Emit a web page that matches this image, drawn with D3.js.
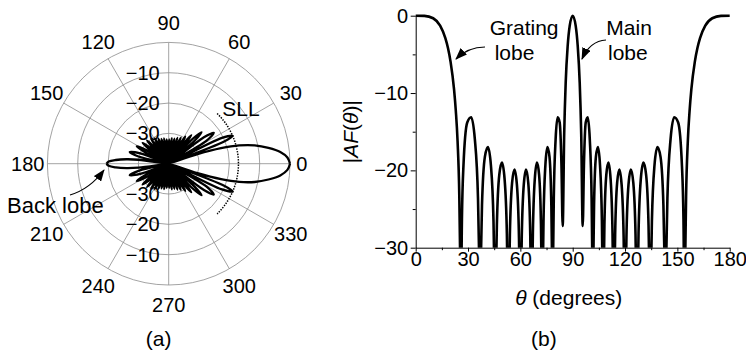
<!DOCTYPE html>
<html>
<head>
<meta charset="utf-8">
<script src="https://cdn.jsdelivr.net/npm/d3@7"></script>
<style>
  body { margin: 0; background: #fff; }
  text { font-family: Arial, "Liberation Sans", sans-serif; fill: #000; }
</style>
</head>
<body>
<svg width="746" height="354"></svg>
<script>
// ---- data ----
// (a) polar pattern, upper half [angle deg, dB]; the lower half is the mirror image
const polarPoints = [
  [0, 0], [3, -0.8], [6, -3], [9, -6.7], [12, -11], [14.5, -16], [16.5, -22], [18.3, -30], [19.5, -40],
  [21.7, -20.5], [23.5, -17], [25.8, -20.5], [28.5, -40],
  [31.2, -25.5], [34.5, -22], [36.8, -25.5], [39.5, -40],
  [41.6, -28.5], [43.8, -25], [45.9, -28.5], [48, -40],
  [49.8, -31.5], [51.6, -28], [53.5, -31.5], [55.3, -40],
  [57, -33], [58.6, -29.5], [60.3, -33], [62, -40],
  [63.6, -34], [65.1, -30.5], [66.7, -34], [68.3, -40],
  [69.8, -35], [71.3, -31], [72.8, -35], [74.3, -40],
  [75.8, -35], [77.2, -31.5], [78.7, -35], [80.2, -40],
  [81.7, -35], [83.1, -31.5], [84.5, -35], [86, -40],
  [87.5, -35.5], [88.9, -32], [90.3, -35.5], [91.8, -40],
  [93.2, -35.5], [94.6, -32], [96, -35.5], [97.5, -40],
  [99, -35], [100.4, -31.5], [101.9, -35], [103.4, -40],
  [104.9, -35], [106.3, -31.5], [107.8, -35], [109.3, -40],
  [110.8, -34.5], [112.4, -31], [114, -34.5], [115.5, -40],
  [117.1, -34], [118.7, -30.5], [120.4, -34], [122, -40],
  [123.7, -33.5], [125.5, -30], [127.3, -33.5], [129, -40],
  [131, -33], [133, -29.5], [135, -33], [137, -40],
  [139.2, -32.5], [141.5, -29], [143.8, -32.5], [146, -40],
  [148.8, -31.5], [151.5, -28], [154.2, -31.5], [157, -40],
  [160.2, -30], [163.5, -26.6], [166.8, -30], [170, -40],
  [172.5, -30], [174, -26], [176, -22.5], [178, -20.2], [180, -19.5]
]
const ringLevels = [0, -10, -20, -30]
const ringLabels = [-10, -20, -30]
const angleTicks = [0, 30, 60, 90, 120, 150, 180, 210, 240, 270, 300, 330]
const sllLevel = -17

// (b) |AF(theta)| in dB [theta deg, dB]
const afPoints = [
  [0, 0], [5, -0.02], [10, -0.33], [14, -1.29], [17, -2.9], [18.5, -4.18], [20, -5.97], [22, -9.57],
  [23, -12.32], [24, -16.2], [25, -23.4], [25.5, -31.4], [25.84, -40],
  [26.5, -26.32], [27.37, -19.43], [29.54, -13.82], [31.79, -13.14], [33.9, -15.97], [35.71, -23.6], [36.39, -31.3], [36.87, -40],
  [37.35, -31.68], [38, -24.5], [39.65, -18.25], [41.41, -16.99], [43.11, -19.34], [44.6, -26.59], [45.17, -34.17], [45.57, -40],
  [45.97, -34.37], [46.53, -27.07], [47.93, -20.54], [49.46, -19], [50.95, -21.1], [52.26, -28.13], [52.77, -35.63], [53.13, -40],
  [53.49, -35.72], [53.98, -28.34], [55.25, -21.63], [56.63, -19.89], [58, -21.8], [59.2, -28.67], [59.67, -36.11], [60, -40],
  [60.33, -36.11], [60.79, -28.67], [61.97, -21.8], [63.26, -19.89], [64.53, -21.63], [65.67, -28.34], [66.11, -35.72], [66.42, -40],
  [66.73, -35.63], [67.17, -28.13], [68.28, -21.1], [69.51, -19], [70.73, -20.54], [71.82, -27.07], [72.24, -34.37], [72.54, -40],
  [72.84, -34.17], [73.26, -26.59], [74.34, -19.34], [75.52, -16.99], [76.7, -18.25], [77.76, -24.5], [78.17, -31.68], [78.46, -40],
  [78.76, -31.3], [79.16, -23.6], [80.21, -15.97], [81.37, -13.14], [82.53, -13.82], [83.57, -19.43], [84.26, -27.2],
  [85.12, -15.29], [85.99, -8.62], [87.13, -3.89], [88.28, -1.31], [90, 0],
  [91.72, -1.31], [92.87, -3.89], [94.01, -8.62], [94.88, -15.29], [95.74, -27.2],
  [96.43, -19.43], [97.47, -13.82], [98.63, -13.14], [99.79, -15.97], [100.84, -23.6], [101.24, -31.3], [101.54, -40],
  [101.83, -31.68], [102.24, -24.5], [103.3, -18.25], [104.48, -16.99], [105.66, -19.34], [106.74, -26.59], [107.16, -34.17], [107.46, -40],
  [107.76, -34.37], [108.18, -27.07], [109.27, -20.54], [110.49, -19], [111.72, -21.1], [112.83, -28.13], [113.27, -35.63], [113.58, -40],
  [113.89, -35.72], [114.33, -28.34], [115.47, -21.63], [116.74, -19.89], [118.03, -21.8], [119.21, -28.67], [119.67, -36.11], [120, -40],
  [120.33, -36.11], [120.8, -28.67], [122, -21.8], [123.37, -19.89], [124.75, -21.63], [126.02, -28.34], [126.51, -35.72], [126.87, -40],
  [127.23, -35.63], [127.74, -28.13], [129.05, -21.1], [130.54, -19], [132.07, -20.54], [133.47, -27.07], [134.03, -34.37], [134.43, -40],
  [134.83, -34.17], [135.4, -26.59], [136.89, -19.34], [138.59, -16.99], [140.35, -18.25], [142, -24.5], [142.65, -31.68], [143.13, -40],
  [143.61, -31.3], [144.29, -23.6], [146.1, -15.97], [148.21, -13.14], [150.46, -13.82], [152.63, -19.43], [153.5, -26.32], [154.16, -40],
  [154.5, -31.4], [155, -23.4], [156, -16.2], [157, -12.32], [158, -9.57], [160, -5.97], [161.5, -4.18], [163, -2.9],
  [166, -1.29], [170, -0.33], [175, -0.02], [180, 0]
]
const xTicks = [0, 30, 60, 90, 120, 150, 180]
const xMinor = [15, 45, 75, 105, 135, 165]
const yTicks = [0, -10, -20, -30]
const yMinor = [-5, -15, -25]

const svg = d3.select("svg")
const rad = d => d * Math.PI / 180

svg.append("defs").append("marker")
    .attr("id", "arrow")
    .attr("markerUnits", "userSpaceOnUse")
    .attr("viewBox", "0 0 12 9")
    .attr("markerWidth", 12).attr("markerHeight", 9)
    .attr("refX", 11).attr("refY", 4.5)
    .attr("orient", "auto")
  .append("path")
    .attr("d", "M0,0 L12,4.5 L0,9 Z")
    .attr("fill", "#000")

////////////////////////
// (a) polar plot
const cx = 168.7, cy = 163.7, R = 121.3
const rScale = d3.scaleLinear().domain([-40, 0]).range([0, R]).clamp(true)

const polar = svg.append("g").attr("transform", `translate(${cx},${cy})`)

polar.selectAll(".ring")
    .data(ringLevels)
    .join("circle")
    .attr("class", "ring")
    .attr("r", d => rScale(d))
    .attr("fill", "none")
    .attr("stroke", "#8c8c8c")
    .attr("stroke-width", 0.8)

polar.selectAll(".spoke")
    .data(angleTicks)
    .join("line")
    .attr("class", "spoke")
    .attr("x1", 0).attr("y1", 0)
    .attr("x2", d => R * Math.cos(rad(d)))
    .attr("y2", d => -R * Math.sin(rad(d)))
    .attr("stroke", "#8c8c8c")
    .attr("stroke-width", 0.8)

polar.selectAll(".alabel")
    .data(angleTicks)
    .join("text")
    .attr("class", "alabel")
    .attr("x", d => (d === 0 ? 133 : 141) * Math.cos(rad(d)))
    .attr("y", d => -(d === 0 ? 133 : 141) * Math.sin(rad(d)))
    .attr("dy", "0.35em")
    .attr("text-anchor", "middle")
    .attr("font-size", 20)
    .text(d => d)

// radial labels above and below the centre
const fmt = d3.format("d")
polar.selectAll(".rlabel")
    .data(ringLabels.flatMap(d => [{v: d, s: -1}, {v: d, s: 1}]))
    .join("text")
    .attr("class", "rlabel")
    .attr("x", -9)
    .attr("y", d => d.s * rScale(d.v))
    .attr("dy", "0.35em")
    .attr("text-anchor", "end")
    .attr("font-size", 20)
    .text(d => fmt(d.v))

const radial = d3.lineRadial()
    .angle(d => rad(90 - d[0]))
    .radius(d => rScale(d[1]))
    .curve(d3.curveCatmullRom)

polar.append("path")
    .attr("d", radial(polarPoints))
    .attr("fill", "none")
    .attr("stroke", "#000")
    .attr("stroke-width", 2.3)
    .attr("stroke-linejoin", "round")

polar.append("path")
    .attr("transform", "scale(1,-1)")
    .attr("d", radial(polarPoints))
    .attr("fill", "none")
    .attr("stroke", "#000")
    .attr("stroke-width", 2.3)
    .attr("stroke-linejoin", "round")

// SLL dotted arc
const sllPath = d3.path()
sllPath.arc(0, 0, rScale(sllLevel), rad(-46), rad(46))
polar.append("path")
    .attr("d", sllPath.toString())
    .attr("fill", "none")
    .attr("stroke", "#000")
    .attr("stroke-width", 1.5)
    .attr("stroke-dasharray", "1.4,1.3")

svg.append("text").attr("x", 241).attr("y", 116).attr("text-anchor", "middle")
    .attr("font-size", 21).text("SLL")

svg.append("text").attr("x", 7).attr("y", 212.5).attr("font-size", 22).text("Back lobe")
svg.append("path")
    .attr("d", "M70,195 Q90,189 104,170")
    .attr("fill", "none").attr("stroke", "#000").attr("stroke-width", 1.2)
    .attr("marker-end", "url(#arrow)")

svg.append("text").attr("x", 158.7).attr("y", 346).attr("text-anchor", "middle")
    .attr("font-size", 21).text("(a)")

////////////////////////
// (b) array factor
const x = d3.scaleLinear().domain([0, 180]).range([415.7, 729.7])
const y = d3.scaleLinear().domain([-30, 0]).range([247.7, 15.7])

svg.append("clipPath").attr("id", "clipB")
  .append("rect")
    .attr("x", x(0) - 5).attr("y", 0)
    .attr("width", x(180) - x(0) + 10).attr("height", y(-30))

const line = d3.line()
    .x(d => x(d[0]))
    .y(d => y(d[1]))
    .curve(d3.curveMonotoneX)

svg.append("path")
    .attr("clip-path", "url(#clipB)")
    .attr("d", line(afPoints))
    .attr("fill", "none")
    .attr("stroke", "#000")
    .attr("stroke-width", 2.6)
    .attr("stroke-linejoin", "round")

svg.append("g")
    .attr("transform", `translate(${x(0)},0)`)
    .call(d3.axisLeft(y).tickValues(yTicks).tickSize(5).tickSizeOuter(0).tickPadding(2.5).tickFormat(fmt))
svg.append("g")
    .attr("transform", `translate(${x(0)},0)`)
    .call(d3.axisLeft(y).tickValues(yMinor).tickSize(3).tickFormat(""))
    .call(g => g.select(".domain").remove())

svg.append("g")
    .attr("transform", `translate(0,${y(-30)})`)
    .call(d3.axisBottom(x).tickValues(xTicks).tickSize(4).tickSizeOuter(0).tickPadding(0).tickFormat(fmt))
svg.append("g")
    .attr("transform", `translate(0,${y(-30)})`)
    .call(d3.axisBottom(x).tickValues(xMinor).tickSize(2.5).tickFormat(""))
    .call(g => g.select(".domain").remove())

svg.selectAll(".tick text")
    .attr("font-size", 20)
    .attr("font-family", "Arial, 'Liberation Sans', sans-serif")
svg.selectAll(".domain, .tick line").attr("stroke", "#000").attr("stroke-width", 1)

const yTitle = svg.append("text")
    .attr("transform", `translate(358,${(y(0) + y(-30)) / 2}) rotate(-90)`)
    .attr("text-anchor", "middle")
    .attr("font-size", 21)
yTitle.append("tspan").text("|")
yTitle.append("tspan").attr("font-style", "italic").text("AF")
yTitle.append("tspan").text("(")
yTitle.append("tspan").attr("font-style", "italic").text("θ")
yTitle.append("tspan").text(")|")

const xTitle = svg.append("text")
    .attr("x", (x(0) + x(180)) / 2 - 4).attr("y", 305)
    .attr("text-anchor", "middle")
    .attr("font-size", 21)
xTitle.append("tspan").attr("font-style", "italic").text("θ")
xTitle.append("tspan").text(" (degrees)")

svg.append("text").attr("x", 489.7).attr("y", 35).attr("font-size", 21).text("Grating")
svg.append("text").attr("x", 494.7).attr("y", 60).attr("font-size", 21).text("lobe")
svg.append("path")
    .attr("d", "M485,47 Q468,47 456,59")
    .attr("fill", "none").attr("stroke", "#000").attr("stroke-width", 1.2)
    .attr("marker-end", "url(#arrow)")

svg.append("text").attr("x", 606.3).attr("y", 35).attr("font-size", 21).text("Main")
svg.append("text").attr("x", 608).attr("y", 60).attr("font-size", 21).text("lobe")
svg.append("path")
    .attr("d", "M606,40 Q590,41 582,59")
    .attr("fill", "none").attr("stroke", "#000").attr("stroke-width", 1.2)
    .attr("marker-end", "url(#arrow)")

svg.append("text").attr("x", 543.8).attr("y", 346).attr("text-anchor", "middle")
    .attr("font-size", 21).text("(b)")
</script>
</body>
</html>
